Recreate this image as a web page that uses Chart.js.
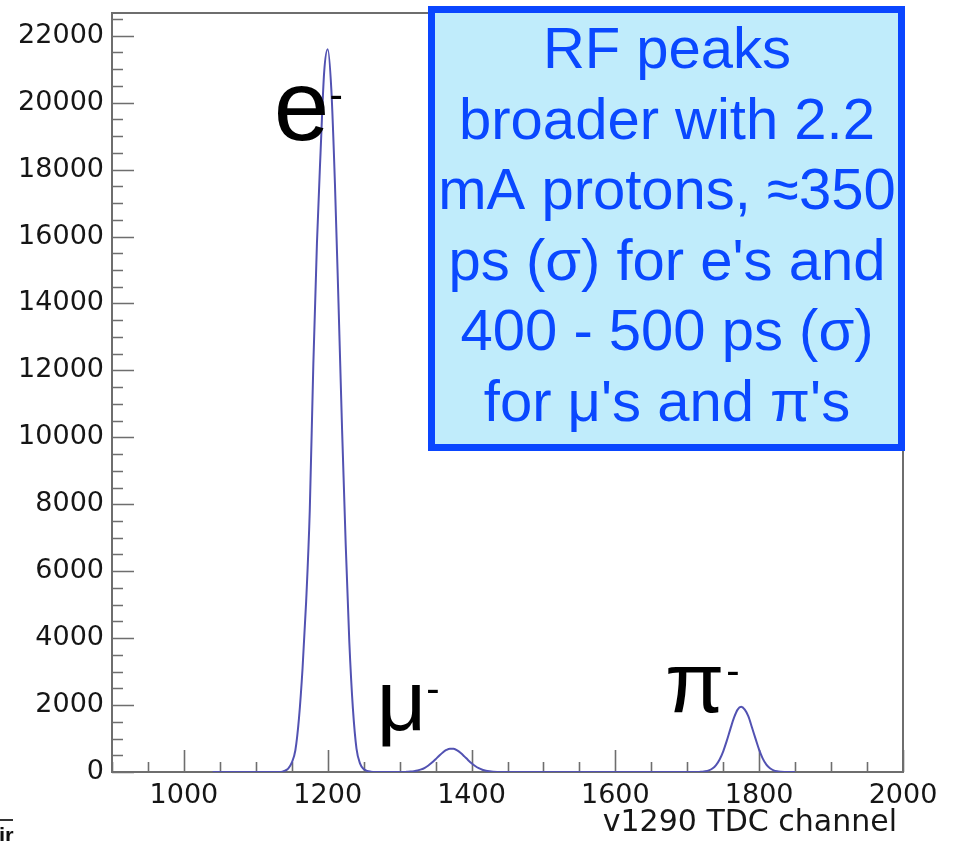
<!DOCTYPE html>
<html>
<head>
<meta charset="utf-8">
<script src="https://cdn.jsdelivr.net/npm/chart.js@4.4.1/dist/chart.umd.min.js"></script>
<style>
  html, body { margin: 0; padding: 0; background: #ffffff; }
  #wrap { position: relative; width: 957px; height: 841px; }
</style>
</head>
<body>
<div id="wrap"><canvas id="tdc"></canvas></div>
<script>
// TDC channel (bin centre) and counts per bin for the RF timing spectrum
const channels = [
  1040, 1100, 1135,
  1140, 1145, 1150, 1155, 1160, 1165, 1170, 1175, 1180, 1185, 1190, 1195,
  1200, 1205, 1210, 1215, 1220, 1225, 1230, 1235, 1240, 1245, 1250, 1255, 1260, 1265,
  1305, 1310, 1315, 1320, 1325, 1330, 1335, 1340, 1345, 1350, 1355, 1360, 1365,
  1370, 1375, 1380, 1385, 1390, 1395, 1400, 1405, 1410, 1415, 1420, 1425, 1430, 1440,
  1500, 1600, 1715,
  1720, 1725, 1730, 1735, 1740, 1745, 1750, 1755, 1760, 1765, 1770, 1775,
  1780, 1785, 1790, 1795, 1800, 1805, 1810, 1815, 1820, 1825, 1830, 1840, 1850
];
const counts = [
  0, 0, 0,
  35, 100, 280, 650, 1600, 3100, 5100, 7800, 12200, 15800, 18500, 20900,
  21600, 20400, 17600, 14000, 10200, 6800, 3900, 1900, 700, 250, 90, 30, 10, 0,
  0, 6, 12, 24, 44, 77, 126, 195, 281, 382, 488, 585, 658,
  697, 692, 646, 567, 467, 361, 263, 180, 115, 69, 39, 21, 10, 0,
  0, 0, 0,
  8, 20, 47, 103, 206, 374, 619, 936, 1290, 1623, 1863, 1950,
  1863, 1660, 1330, 990, 660, 400, 220, 110, 50, 20, 8, 0, 0
];

// axis ranges and tick labels
const xRange = [900, 2000];
const yRange = [0, 22680];
const xTickLabels = [1000, 1200, 1400, 1600, 1800, 2000];
const yTickLabels = [0, 2000, 4000, 6000, 8000, 10000, 12000, 14000, 16000, 18000, 20000, 22000];
const xMinorStep = 50;
const yMinorStep = 500;
const xTitle = 'v1290 TDC channel';

// peak labels: particle, anchor channel, anchor count, font size
const peakLabels = [
  { text: 'e', x: 1125, y: 18890, size: 100 },
  { text: 'μ', x: 1268, y: 1255, size: 86 },
  { text: 'π', x: 1669, y: 1793, size: 86 }
];

// note box text
const noteLines = [
  'RF peaks',
  'broader with 2.2',
  'mA protons, ≈350',
  "ps (σ) for e's and",
  '400 - 500 ps (σ)',
  "for μ's and π's"
];

const points = channels.map((c, i) => ({ x: c, y: counts[i] }));
const frameColor = '#6e6e6e';
const textColor = '#161616';

const frameAndTicks = {
  id: 'frameAndTicks',
  beforeDatasetsDraw(chart) {
    const { ctx, chartArea: a, scales: { x, y } } = chart;
    ctx.save();
    ctx.strokeStyle = frameColor;
    ctx.lineWidth = 2;
    ctx.strokeRect(a.left, a.top, a.right - a.left, a.bottom - a.top);
    ctx.lineWidth = 1.6;
    ctx.beginPath();
    for (let v = yRange[0]; v <= yRange[1]; v += yMinorStep) {
      const py = Math.round(y.getPixelForValue(v)) + 0.5;
      const len = yTickLabels.includes(v) ? 22 : 11;
      ctx.moveTo(a.left, py);
      ctx.lineTo(a.left + len, py);
    }
    for (let v = xRange[0]; v <= xRange[1]; v += xMinorStep) {
      const px = Math.round(x.getPixelForValue(v)) + 0.5;
      const len = xTickLabels.includes(v) ? 22 : 10;
      ctx.moveTo(px, a.bottom);
      ctx.lineTo(px, a.bottom - len);
    }
    ctx.stroke();

    // axis title, right-aligned under the x axis
    ctx.fillStyle = textColor;
    ctx.font = '30px "DejaVu Sans", sans-serif';
    ctx.textAlign = 'right';
    ctx.textBaseline = 'middle';
    ctx.fillText(xTitle, a.right - 6, 823);
    ctx.restore();
  }
};

const annotations = {
  id: 'annotations',
  afterDatasetsDraw(chart) {
    const { ctx, scales: { x, y } } = chart;
    ctx.save();
    // particle labels with superscript minus
    ctx.fillStyle = '#000000';
    ctx.textAlign = 'left';
    ctx.textBaseline = 'alphabetic';
    peakLabels.forEach(l => {
      const px = x.getPixelForValue(l.x);
      const py = y.getPixelForValue(l.y);
      ctx.font = l.size + 'px "Liberation Sans", Arial, sans-serif';
      ctx.fillText(l.text, px, py);
      const w = ctx.measureText(l.text).width;
      ctx.font = '40px "Liberation Sans", Arial, sans-serif';
      ctx.fillText('-', px + w + (l.text === 'π' ? 2 : 0), py - 0.32 * l.size);
    });

    // note box
    const bx = 431.5, by = 9.5, bw = 470, bh = 438;
    ctx.fillStyle = '#c0ecfb';
    ctx.fillRect(bx, by, bw, bh);
    ctx.strokeStyle = '#0a46ff';
    ctx.lineWidth = 7;
    ctx.strokeRect(bx, by, bw, bh);
    ctx.fillStyle = '#0a48ff';
    ctx.font = '58px "Liberation Sans", Arial, sans-serif';
    ctx.textAlign = 'center';
    noteLines.forEach((t, i) => ctx.fillText(t, 667, 68 + i * 70.5));

    // clipped caption fragment at the lower left edge
    ctx.fillStyle = '#111111';
    ctx.textAlign = 'left';
    ctx.font = 'bold 22px "Liberation Sans", Arial, sans-serif';
    ctx.fillText('ir', -1, 843);
    ctx.strokeStyle = '#333333';
    ctx.lineWidth = 2;
    ctx.beginPath();
    ctx.moveTo(0, 820);
    ctx.lineTo(13, 820);
    ctx.stroke();
    ctx.restore();
  }
};

const tickFont = { family: '"DejaVu Sans", sans-serif', size: 27 };

new Chart(document.getElementById('tdc'), {
  type: 'line',
  data: {
    datasets: [{
      data: points,
      borderColor: 'rgb(82, 82, 178)',
      borderWidth: 2,
      pointRadius: 0,
      fill: false,
      cubicInterpolationMode: 'monotone'
    }]
  },
  options: {
    responsive: true,
    maintainAspectRatio: false,
    animation: false,
    devicePixelRatio: 1,
    layout: { padding: { top: 13, right: 54, bottom: 0, left: 0 } },
    plugins: { legend: { display: false }, tooltip: { enabled: false } },
    scales: {
      x: {
        type: 'linear',
        min: xRange[0],
        max: xRange[1],
        afterBuildTicks(s) { s.ticks = xTickLabels.map(v => ({ value: v })); },
        afterFit(s) { s.height = 69; s.paddingLeft = 0; s.paddingRight = 0; },
        grid: { display: false, drawTicks: false },
        border: { display: false },
        ticks: {
          maxRotation: 0,
          autoSkip: false,
          padding: 8,
          color: textColor,
          font: tickFont,
          callback: v => String(v)
        }
      },
      y: {
        type: 'linear',
        min: yRange[0],
        max: yRange[1],
        afterBuildTicks(s) { s.ticks = yTickLabels.map(v => ({ value: v })); },
        afterFit(s) { s.width = 112; s.paddingTop = 0; s.paddingBottom = 0; },
        grid: { display: false, drawTicks: false },
        border: { display: false },
        ticks: {
          autoSkip: false,
          padding: 8,
          color: textColor,
          font: tickFont,
          callback: v => String(v)
        }
      }
    }
  },
  plugins: [frameAndTicks, annotations]
});
</script>
</body>
</html>
